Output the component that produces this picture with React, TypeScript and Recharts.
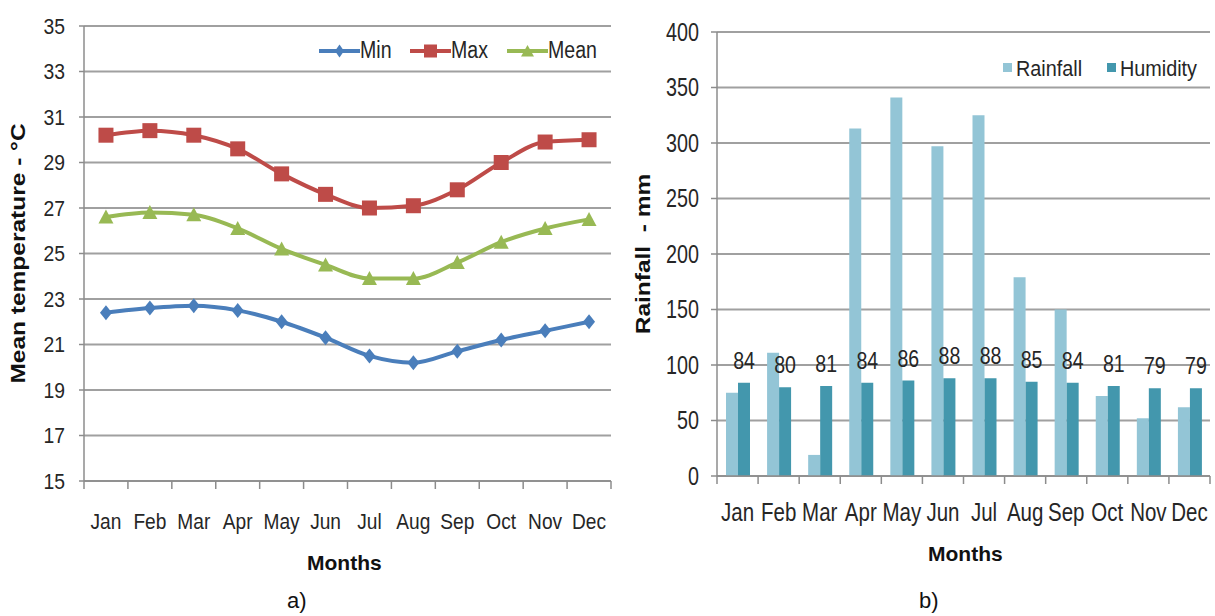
import { LineChart, Line, BarChart, Bar, XAxis, YAxis, CartesianGrid, LabelList } from "recharts";

const months = ["Jan", "Feb", "Mar", "Apr", "May", "Jun", "Jul", "Aug", "Sep", "Oct", "Nov", "Dec"];
const minTemp = [22.4, 22.6, 22.7, 22.5, 22.0, 21.3, 20.5, 20.2, 20.7, 21.2, 21.6, 22.0];
const maxTemp = [30.2, 30.4, 30.2, 29.6, 28.5, 27.6, 27.0, 27.1, 27.8, 29.0, 29.9, 30.0];
const meanTemp = [26.6, 26.8, 26.7, 26.1, 25.2, 24.5, 23.9, 23.9, 24.6, 25.5, 26.1, 26.5];
const rainfall = [75, 111, 19, 313, 341, 297, 325, 179, 150, 72, 52, 62];
const humidity = [84, 80, 81, 84, 86, 88, 88, 85, 84, 81, 79, 79];
const tempTicks = [15, 17, 19, 21, 23, 25, 27, 29, 31, 33, 35];
const rainTicks = [0, 50, 100, 150, 200, 250, 300, 350, 400];

const tempData = months.map((m, i) => ({ month: m, min: minTemp[i], max: maxTemp[i], mean: meanTemp[i] }));
const rainData = months.map((m, i) => ({ month: m, rainfall: rainfall[i], humidity: humidity[i] }));

// no narrow font installed, so Liberation Sans gets squeezed sideways
const FONT = "'Liberation Sans', Arial, sans-serif";
const TXT = "#262626";
const GRID = "#a0a0a0";
const AXIS = "#8c8c8c";

const BLUE = "#4a7ebb";
const RED = "#be4b48";
const GREEN = "#98b954";
const LIGHT = "#93c5d6";
const TEAL = "#4397ad";

// tick marks sit between categories, like the spreadsheet original
const makeMonthTick = (tickSize: number, tickMargin: number, fs: number, sq: number) => (props: any) => {
  const { x, y, payload, index, visibleTicksCount } = props;
  const axisY = y - tickSize - tickMargin;
  const half = payload.offset || 0;
  return (
    <g>
      <line x1={x - half} x2={x - half} y1={axisY} y2={axisY + tickSize} stroke={AXIS} strokeWidth={1.5} />
      {index === visibleTicksCount - 1 && (
        <line x1={x + half} x2={x + half} y1={axisY} y2={axisY + tickSize} stroke={AXIS} strokeWidth={1.5} />
      )}
      <text transform={`translate(${x},${y}) scale(${sq},1)`} dy="0.71em" textAnchor="middle" fill={TXT} fontSize={fs} fontFamily={FONT}>
        {payload.value}
      </text>
    </g>
  );
};

const makeValueTick = (fs: number, sq: number) => (props: any) => {
  const { x, y, payload } = props;
  return (
    <text transform={`translate(${x},${y}) scale(${sq},1)`} dy="0.355em" textAnchor="end" fill={TXT} fontSize={fs} fontFamily={FONT}>
      {payload.value}
    </text>
  );
};

const VTitle = (props: any) => {
  const { viewBox, value, dx } = props;
  const cy = viewBox.y + viewBox.height / 2;
  return (
    <text
      transform={`translate(${viewBox.x + dx},${cy}) scale(0.8,1) rotate(-90)`}
      textAnchor="middle"
      dominantBaseline="central"
      fill="#111"
      fontSize={24.5}
      fontWeight="bold"
      fontFamily={FONT}
      style={{ whiteSpace: "pre" }}
    >
      {value}
    </text>
  );
};

const HumLabel = (props: any) => {
  const { x, y, width, value } = props;
  return (
    <text transform={`translate(${x + width / 2},${y - 14}) scale(0.85,1)`} textAnchor="middle" fill={TXT} fontSize={23} fontFamily={FONT}>
      {value}
    </text>
  );
};

const Squeezed = ({ children, style, sq = 0.85 }: any) => (
  <div style={{ position: "absolute", transform: `scaleX(${sq})`, transformOrigin: "0 50%", whiteSpace: "pre", fontFamily: FONT, fontSize: 23, color: TXT, lineHeight: 1, ...style }}>
    {children}
  </div>
);

const lineLegend = [
  { name: "Min", color: BLUE, shape: "diamond", left: 319 },
  { name: "Max", color: RED, shape: "square", left: 410 },
  { name: "Mean", color: GREEN, shape: "triangle", left: 507 },
];

const barLegend = [
  { name: "Rainfall", color: LIGHT, left: 1003 },
  { name: "Humidity", color: TEAL, left: 1107 },
];

const diamond = (color: string) => (p: any) => (
  <path key={p.key} d={`M${p.cx},${p.cy - 7.5}L${p.cx + 6},${p.cy}L${p.cx},${p.cy + 7.5}L${p.cx - 6},${p.cy}Z`} fill={color} />
);
const square = (color: string) => (p: any) => (
  <rect key={p.key} x={p.cx - 7.5} y={p.cy - 7.5} width={15} height={15} fill={color} />
);
const triangle = (color: string) => (p: any) => (
  <path key={p.key} d={`M${p.cx},${p.cy - 7.5}L${p.cx + 7.5},${p.cy + 6.5}L${p.cx - 7.5},${p.cy + 6.5}Z`} fill={color} />
);

export default function App() {
  return (
    <div style={{ position: "absolute", left: 0, top: 0, width: 1215, height: 616, background: "#fff", overflow: "hidden" }}>
      <div style={{ position: "absolute", left: 0, top: 0 }}>
        <LineChart width={620} height={580} data={tempData} margin={{ top: 26, right: 9, left: 0, bottom: 0 }}>
          <CartesianGrid vertical={false} stroke={GRID} strokeWidth={2} />
          <XAxis
            dataKey="month"
            scale="band"
            height={99}
            tickSize={8}
            tickMargin={24}
            tickLine={false}
            interval={0}
            stroke={AXIS}
            strokeWidth={1.5}
            tick={makeMonthTick(8, 24, 22.5, 0.85)}
          />
          <YAxis
            width={84}
            domain={[15, 35]}
            ticks={tempTicks}
            interval={0}
            tickSize={5}
            tickMargin={14}
            stroke={AXIS}
            strokeWidth={1.5}
            tick={makeValueTick(22.5, 0.86)}
            label={<VTitle value="Mean temperature - °C" dx={18} />}
          />
          <Line type="monotone" dataKey="min" name="Min" stroke={BLUE} strokeWidth={4} dot={diamond(BLUE)} isAnimationActive={false} />
          <Line type="monotone" dataKey="max" name="Max" stroke={RED} strokeWidth={4} dot={square(RED)} isAnimationActive={false} />
          <Line type="monotone" dataKey="mean" name="Mean" stroke={GREEN} strokeWidth={4} dot={triangle(GREEN)} isAnimationActive={false} />
        </LineChart>
      </div>
      <div style={{ position: "absolute", left: 620, top: 0 }}>
        <BarChart width={595} height={580} data={rainData} barSize={12} barGap={0} margin={{ top: 32, right: 5, left: 0, bottom: 0 }}>
          <CartesianGrid vertical={false} stroke={GRID} strokeWidth={2} />
          <XAxis
            dataKey="month"
            height={104}
            tickSize={8}
            tickMargin={19}
            tickLine={false}
            interval={0}
            stroke={AXIS}
            strokeWidth={1.5}
            tick={makeMonthTick(8, 19, 25, 0.82)}
          />
          <YAxis
            width={97}
            domain={[0, 400]}
            ticks={rainTicks}
            interval={0}
            tickSize={6}
            tickMargin={12}
            stroke={AXIS}
            strokeWidth={1.5}
            tick={makeValueTick(25, 0.79)}
            label={<VTitle value="Rainfall  - mm" dx={23} />}
          />
          <Bar dataKey="rainfall" name="Rainfall" fill={LIGHT} isAnimationActive={false} />
          <Bar dataKey="humidity" name="Humidity" fill={TEAL} isAnimationActive={false}>
            <LabelList dataKey="humidity" content={<HumLabel />} />
          </Bar>
        </BarChart>
      </div>

      {lineLegend.map((it) => (
        <div key={it.name}>
          <svg style={{ position: "absolute", left: it.left, top: 42.5 }} width={41} height={16}>
            <line x1={0} x2={41} y1={8} y2={8} stroke={it.color} strokeWidth={4} />
            {it.shape === "diamond" && <path d="M20.5,1.5L25,8L20.5,14.5L16,8Z" fill={it.color} />}
            {it.shape === "square" && <rect x={14} y={1.5} width={13} height={13} fill={it.color} />}
            {it.shape === "triangle" && <path d="M20.5,2L27,13.5L14,13.5Z" fill={it.color} />}
          </svg>
          <Squeezed style={{ left: it.left + 41, top: 39 }}>{it.name}</Squeezed>
        </div>
      ))}
      {barLegend.map((it) => (
        <div key={it.name}>
          <div style={{ position: "absolute", left: it.left, top: 63, width: 9, height: 9, background: it.color }} />
          <Squeezed sq={0.9} style={{ left: it.left + 13, top: 58, fontSize: 22 }}>{it.name}</Squeezed>
        </div>
      ))}

      <div style={{ position: "absolute", left: 307, top: 552, fontFamily: FONT, fontWeight: "bold", fontSize: 21, color: "#111", lineHeight: 1 }}>Months</div>
      <div style={{ position: "absolute", left: 928, top: 543, fontFamily: FONT, fontWeight: "bold", fontSize: 21, color: "#111", lineHeight: 1 }}>Months</div>
      <div style={{ position: "absolute", left: 287, top: 589, fontFamily: FONT, fontSize: 22, color: "#111", lineHeight: 1.1 }}>a)</div>
      <div style={{ position: "absolute", left: 919, top: 589, fontFamily: FONT, fontSize: 22, color: "#111", lineHeight: 1.1 }}>b)</div>
    </div>
  );
}
